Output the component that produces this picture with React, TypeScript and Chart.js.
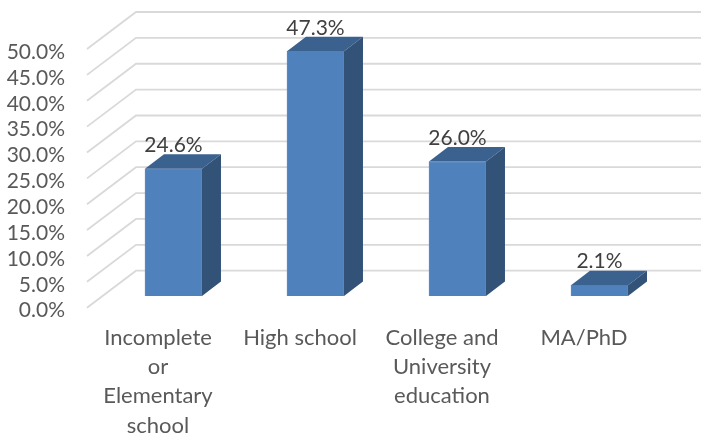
import React, { useEffect, useRef } from "react";
import { Chart, registerables } from "chart.js";

Chart.register(...registerables);

const categories = [
  ["Incomplete", "or", "Elementary", "school"],
  "High school",
  ["College and", "University", "education"],
  "MA/PhD",
];
const values = [24.6, 47.3, 26.0, 2.1];
const yMin = 0;
const yMax = 50;
const yStep = 5;

const FONT = "Lato, 'Open Sans', sans-serif";
const WALL_LIFT = -3;
const WALL_DX = 49;
const WALL_DY = -37;
const BAR_DX = 19;
const BAR_DY = -14.5;
const BACK_RIGHT = 704;

const boxPlugin = {
  id: "box3d",
  beforeDatasetsDraw(chart: any) {
    const { ctx } = chart;
    const y = chart.scales.y;
    const left = chart.chartArea.left;
    ctx.save();
    ctx.strokeStyle = "#d9d9d9";
    ctx.lineWidth = 1.8;
    ctx.beginPath();
    for (let v = yMin; v <= yMax; v += yStep) {
      const py = y.getPixelForValue(v) + WALL_LIFT;
      ctx.moveTo(left, py);
      ctx.lineTo(left + WALL_DX, py + WALL_DY);
      ctx.lineTo(BACK_RIGHT, py + WALL_DY);
    }
    ctx.stroke();
    ctx.restore();
  },
  afterDatasetsDraw(chart: any) {
    const { ctx } = chart;
    const meta = chart.getDatasetMeta(0);
    ctx.save();
    meta.data.forEach((bar: any, i: number) => {
      const l = bar.x - bar.width / 2;
      const r = bar.x + bar.width / 2;
      const t = bar.y;
      const b = bar.base;
      ctx.fillStyle = "#3b618f";
      ctx.beginPath();
      ctx.moveTo(l, t);
      ctx.lineTo(l + BAR_DX, t + BAR_DY);
      ctx.lineTo(r + BAR_DX, t + BAR_DY);
      ctx.lineTo(r, t);
      ctx.closePath();
      ctx.fill();
      ctx.fillStyle = "#325278";
      ctx.beginPath();
      ctx.moveTo(r, t);
      ctx.lineTo(r + BAR_DX, t + BAR_DY);
      ctx.lineTo(r + BAR_DX, b + BAR_DY);
      ctx.lineTo(r, b);
      ctx.closePath();
      ctx.fill();
      ctx.fillStyle = "#404040";
      ctx.font = `21px ${FONT}`;
      ctx.textAlign = "center";
      ctx.textBaseline = "middle";
      ctx.fillText(values[i].toFixed(1) + "%", bar.x, t - 23.5);
    });
    ctx.restore();
  },
};

export default function App() {
  const ref = useRef<HTMLCanvasElement | null>(null);
  useEffect(() => {
    document.body.style.margin = "0";
    const chart = new Chart(ref.current as HTMLCanvasElement, {
      type: "bar",
      data: {
        datasets: [
          {
            data: values.map((v, i) => ({ x: i, y: v })),
            xAxisID: "xBars",
            yAxisID: "yBars",
            backgroundColor: "#4f81bd",
            borderColor: "#5b8cc8",
            borderWidth: 1,
            barThickness: 57,
            clip: false,
          } as any,
        ],
      },
      options: {
        animation: false,
        responsive: false,
        layout: { padding: { top: 52, right: 46, left: 0, bottom: 0 } },
        plugins: { legend: { display: false }, tooltip: { enabled: false } },
        scales: {
          x: {
            type: "category",
            labels: categories as any,
            grid: { display: false, drawTicks: false },
            border: { display: false },
            afterFit: (s: any) => { s.height = 125.3; },
            ticks: {
              maxRotation: 0,
              minRotation: 0,
              autoSkip: false,
              padding: 12,
              color: "#595959",
              font: { family: FONT, size: 22, lineHeight: 1.34 },
            },
          },
          y: {
            type: "linear",
            min: yMin,
            max: yMax,
            grid: { display: false, drawTicks: false },
            border: { display: false },
            afterFit: (s: any) => { s.width = 87; },
            ticks: {
              stepSize: yStep,
              autoSkip: false,
              padding: 22,
              color: "#595959",
              font: { family: FONT, size: 21 },
              callback: (v: any) => Number(v).toFixed(1) + "%",
            },
          },
          xBars: { type: "linear", display: false, offset: false, min: -0.609, max: 3.391 },
          yBars: { type: "linear", display: false, min: -2.84, max: 47.16 },
        },
      } as any,
      plugins: [boxPlugin],
    });
    return () => chart.destroy();
  }, []);
  return <canvas ref={ref} width={701} height={436} style={{ display: "block" }} />;
}
